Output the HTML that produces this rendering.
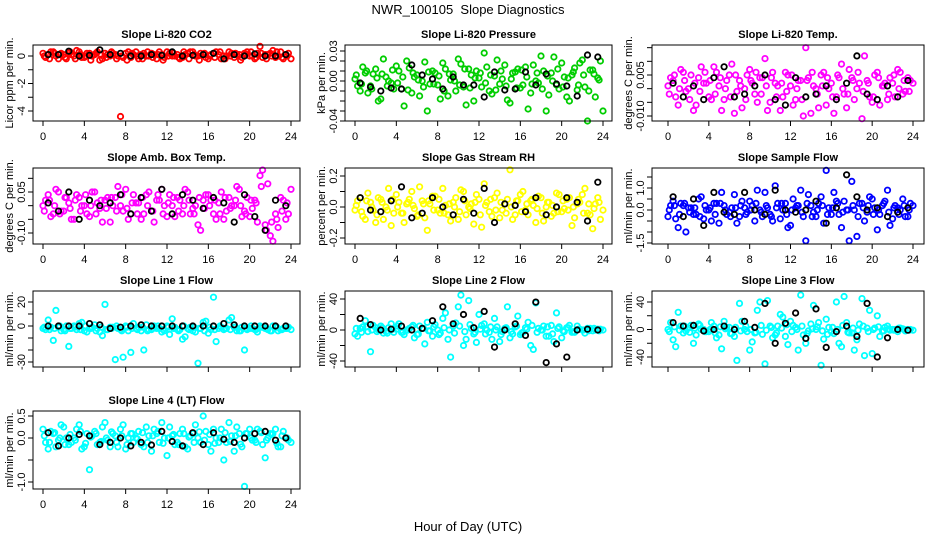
<!DOCTYPE html>
<html><head><meta charset="utf-8"><title>NWR_100105 Slope Diagnostics</title>
<style>
html,body{margin:0;padding:0;background:#fff;}
svg{display:block;font-family:"Liberation Sans",Arial,sans-serif;}
</style></head>
<body>
<svg id="chart" width="936" height="540" viewBox="0 0 936 540" xmlns="http://www.w3.org/2000/svg">
<rect x="0" y="0" width="936" height="540" fill="#fff"/>
<text x="468" y="14" text-anchor="middle" font-size="13" style="white-space:pre">NWR_100105&#160; Slope Diagnostics</text>
<text x="468" y="531" text-anchor="middle" font-size="13">Hour of Day (UTC)</text>
</svg>
<script>
// shared hour categories
const hoursA = [0,0.5,1,1.5,2,2.5,3,3.5,4,4.5,5,5.5,6,6.5,7,7.5,8,8.5,9,9.5,10,10.5,11,11.5,12,12.5,13,13.5,14,14.5,15,15.5,16,16.5,17,17.5,18,18.5,19,19.5,20,20.5,21,21.5,22,22.5,23,23.5,24];
const hoursB = [0.25,0.75,1.25,1.75,2.25,2.75,3.25,3.75,4.25,4.75,5.25,5.75,6.25,6.75,7.25,7.75,8.25,8.75,9.25,9.75,10.25,10.75,11.25,11.75,12.25,12.75,13.25,13.75,14.25,14.75,15.25,15.75,16.25,16.75,17.25,17.75,18.25,18.75,19.25,19.75,20.25,20.75,21.25,21.75,22.25,22.75,23.25,23.75];
const hoursC = [0.125,0.625,1.125,1.625,2.125,2.625,3.125,3.625,4.125,4.625,5.125,5.625,6.125,6.625,7.125,7.625,8.125,8.625,9.125,9.625,10.125,10.625,11.125,11.625,12.125,12.625,13.125,13.625,14.125,14.625,15.125,15.625,16.125,16.625,17.125,17.625,18.125,18.625,19.125,19.625,20.125,20.625,21.125,21.625,22.125,22.625,23.125,23.625];
const hoursK = [0.5,1.5,2.5,3.5,4.5,5.5,6.5,7.5,8.5,9.5,10.5,11.5,12.5,13.5,14.5,15.5,16.5,17.5,18.5,19.5,20.5,21.5,22.5,23.5];
const xTickLabels = ["0","4","8","12","16","20","24"];
const xTickValues = [0,4,8,12,16,20,24];

const co2A = [0.2,0.1,0.3,-0.2,0.1,0.2,0.0,0.3,-0.1,0.2,0.1,-0.3,0.2,0.0,0.1,-4.4,0.2,-0.1,0.3,0.1,0.0,0.2,-0.2,0.1,0.3,0.0,0.1,-0.1,0.2,0.3,0.0,0.1,-0.2,0.2,0.1,0.0,0.3,-0.1,0.1,0.2,0.0,-0.2,0.7,0.1,0.2,-0.1,0.3,0.1,-0.2];
const co2B = [-0.1,0.3,0.0,0.2,-0.2,0.1,0.4,-0.1,0.2,0.0,0.3,-0.2,0.1,0.2,0.0,-0.1,0.3,0.1,-0.2,0.2,0.0,0.1,0.3,-0.1,0.2,0.0,-0.2,0.1,0.3,0.0,0.2,-0.1,0.1,0.3,-0.2,0.0,0.2,0.1,-0.1,0.3,0.0,0.2,-0.1,0.1,0.4,0.0,-0.2,0.2];
const co2C = [0.0,-0.2,0.2,0.1,-0.1,0.3,-0.2,0.1,0.0,-0.3,0.2,0.1,-0.1,0.3,-0.2,0.0,-0.3,0.2,0.0,-0.2,0.3,-0.1,0.1,-0.3,0.0,0.2,-0.1,0.3,-0.2,0.1,-0.3,0.2,0.0,-0.1,0.3,-0.2,0.0,0.2,-0.3,0.1,0.3,-0.1,0.2,-0.2,0.0,0.3,-0.1,0.0];
const co2K = [0.1,0.1,0.35,0.0,0.05,0.45,0.1,0.2,0.0,0.0,0.1,0.05,0.3,0.0,0.05,0.1,0.2,-0.2,0.1,0.0,0.15,0.0,0.0,0.1];

const presA = [0.002,-0.01,0.008,-0.005,0.012,-0.018,0.004,-0.002,0.015,-0.008,0.02,-0.012,0.006,0.0,-0.03,0.01,-0.004,0.018,-0.015,0.007,0.022,-0.006,0.012,-0.02,0.003,0.028,-0.01,0.005,-0.003,0.016,-0.022,0.009,-0.007,0.014,-0.012,0.0,0.025,-0.03,0.008,-0.004,0.018,-0.016,0.006,-0.009,0.021,-0.04,0.011,0.003,-0.03];
const presB = [-0.005,0.014,-0.012,0.007,-0.02,0.022,0.0,-0.008,0.01,-0.025,0.013,0.004,-0.015,0.019,-0.003,0.008,-0.018,0.012,0.001,-0.01,0.017,-0.024,0.006,0.01,-0.006,0.014,-0.013,0.021,0.002,-0.019,0.008,0.012,-0.004,-0.028,0.016,-0.002,0.01,-0.014,0.024,-0.008,0.004,-0.02,0.013,0.018,-0.006,0.011,-0.016,0.02];
const presC = [0.006,-0.003,0.01,-0.008,0.003,0.007,-0.005,0.011,-0.002,0.004,-0.009,0.008,0.001,-0.006,0.009,-0.003,0.005,-0.01,0.007,0.0,-0.004,0.012,-0.007,0.003,0.008,-0.002,0.006,-0.009,0.01,-0.005,0.002,-0.007,0.011,0.004,-0.003,0.008,-0.008,0.005,0.0,0.012,-0.006,0.003,0.009,-0.004,0.006,-0.01,0.007,0.001];
const presK = [-0.002,-0.006,-0.01,-0.007,-0.008,0.016,0.006,0.002,-0.008,0.004,-0.004,-0.004,-0.016,0.009,-0.009,-0.008,0.009,-0.004,0.007,-0.003,-0.005,-0.015,0.026,0.024];

const tempA = [0.001,0.003,-0.006,0.006,0.0,-0.008,0.004,0.002,-0.003,0.008,0.001,-0.004,0.005,-0.009,0.003,0.0,0.007,-0.002,0.004,0.011,-0.005,0.002,-0.008,0.006,0.001,-0.004,0.003,0.015,-0.009,0.0,0.005,-0.006,0.002,-0.003,0.009,-0.007,0.004,0.0,-0.011,0.003,-0.005,0.006,0.001,-0.004,0.002,0.007,-0.002,0.004,0.002];
const tempB = [0.004,-0.003,0.007,-0.001,0.005,-0.006,0.008,0.002,-0.004,0.006,-0.008,0.003,0.009,-0.001,-0.007,0.005,0.002,-0.005,0.004,-0.008,0.006,0.001,-0.003,0.005,-0.006,0.003,-0.01,0.004,0.001,-0.007,0.006,0.0,-0.009,0.004,-0.002,0.007,-0.004,0.002,0.012,-0.003,0.005,-0.006,0.002,0.004,-0.003,0.006,-0.001,0.003];
const tempC = [-0.002,0.005,0.0,0.003,-0.004,0.002,-0.001,0.006,0.003,-0.002,0.004,0.0,-0.003,0.005,0.001,-0.004,0.003,0.006,-0.002,0.001,0.004,-0.003,0.002,-0.001,0.005,0.0,-0.004,0.003,0.006,-0.002,0.001,0.004,-0.003,0.005,0.0,-0.002,0.003,0.006,-0.001,0.002,-0.003,0.004,0.001,-0.002,0.005,0.0,0.003,-0.001];
const tempK = [0.002,-0.003,0.001,-0.004,0.004,0.008,-0.003,-0.002,0.001,0.005,-0.004,-0.006,0.004,-0.003,-0.002,0.001,-0.004,0.002,0.012,-0.002,-0.004,0.001,-0.003,0.003];

const ambA = [0.0,0.04,-0.03,0.05,-0.02,0.01,-0.05,0.03,0.0,-0.04,0.05,-0.01,0.02,-0.06,0.03,0.0,0.06,-0.03,0.01,-0.05,0.04,-0.02,0.02,0.06,-0.04,0.0,0.03,-0.03,0.05,-0.01,-0.07,0.02,0.04,-0.03,0.01,-0.05,0.03,0.0,0.06,-0.02,-0.04,0.02,0.11,-0.07,-0.11,-0.03,0.03,-0.05,0.06];
const ambB = [0.02,-0.04,0.06,-0.02,0.03,-0.05,0.04,0.0,-0.03,0.05,0.01,-0.06,0.03,0.0,0.07,-0.02,-0.05,0.04,0.01,-0.03,0.05,-0.06,0.02,0.0,0.04,-0.04,0.02,0.06,-0.03,0.0,-0.09,0.04,0.02,-0.05,0.05,-0.02,0.0,0.07,-0.04,0.03,-0.01,-0.06,0.13,0.08,-0.13,-0.08,0.02,-0.03];
const ambC = [-0.02,0.02,0.0,-0.03,0.03,-0.01,0.02,-0.02,0.04,0.0,-0.03,0.02,-0.01,0.03,-0.02,0.04,-0.01,0.01,-0.03,0.03,0.0,-0.02,0.04,-0.03,0.01,0.03,-0.02,0.0,0.02,-0.03,0.03,-0.01,0.0,0.02,-0.03,0.03,-0.01,0.02,0.0,-0.03,0.02,0.01,0.07,-0.09,-0.06,-0.05,-0.02,0.01];
const ambK = [0.01,-0.02,0.05,-0.05,0.02,0.0,0.01,0.04,-0.03,0.03,-0.02,0.06,-0.03,0.04,0.02,-0.01,0.03,0.01,-0.06,0.04,-0.04,-0.09,0.02,0.0];

const rhA = [-0.02,0.06,-0.08,0.03,-0.1,0.05,0.0,-0.12,0.08,-0.04,0.02,0.1,-0.06,0.04,-0.15,0.07,-0.02,0.12,-0.05,0.03,-0.08,0.1,0.0,-0.11,0.05,0.15,-0.03,0.06,-0.07,0.02,0.24,-0.05,0.08,-0.02,0.04,-0.1,0.06,0.0,-0.06,0.09,-0.03,0.05,-0.12,0.02,0.08,-0.04,-0.14,0.06,-0.02];
const rhB = [0.04,-0.06,0.09,-0.02,0.06,-0.08,0.12,-0.04,0.03,-0.1,0.05,-0.01,0.13,-0.07,0.02,0.07,-0.04,0.01,-0.09,0.06,0.11,-0.05,0.02,0.08,-0.13,0.03,-0.06,0.09,-0.02,0.05,-0.08,0.04,0.1,-0.05,0.01,0.07,-0.09,0.03,-0.04,0.08,-0.01,0.06,-0.07,0.03,0.12,-0.05,0.02,-0.08];
const rhC = [0.01,-0.03,0.04,0.0,-0.05,0.03,-0.02,0.05,0.0,-0.04,0.03,0.01,-0.05,0.02,0.04,-0.02,0.05,-0.04,0.02,0.0,-0.03,0.04,-0.01,0.03,-0.05,0.01,0.05,-0.02,0.03,-0.04,0.0,0.04,-0.03,0.02,0.05,-0.01,-0.04,0.03,0.01,-0.03,0.04,-0.02,0.0,0.05,-0.04,0.02,-0.01,0.03];
const rhK = [0.06,-0.02,-0.03,0.04,0.13,-0.07,-0.04,0.06,0.0,-0.05,0.05,-0.04,0.12,-0.1,0.02,0.01,-0.03,0.06,-0.05,0.0,0.06,0.03,-0.09,0.16];

const sfA = [-0.3,0.4,-0.8,0.2,0.1,-0.2,0.5,-0.4,0.0,0.3,-0.6,0.2,-0.1,0.7,-0.3,0.1,0.4,-0.5,0.0,0.8,-0.2,1.1,-0.4,0.3,-0.7,0.1,0.9,-1.4,0.2,-0.3,0.6,1.8,-0.2,0.4,-0.8,0.0,1.3,-1.2,0.3,-0.1,0.5,-0.9,0.2,0.9,-0.4,0.1,0.5,-0.3,0.2];
const sfB = [0.2,-0.4,0.3,-1.0,0.1,-0.2,0.6,0.0,-0.5,0.3,0.8,-0.2,0.1,-0.6,0.4,-0.1,0.2,0.9,-0.3,0.1,-0.5,0.3,0.0,-0.8,0.5,0.2,-0.3,0.7,-0.1,0.3,-0.6,0.1,0.8,-0.2,0.4,-1.4,0.0,0.3,-0.5,0.6,0.1,-0.2,0.4,-0.7,0.2,0.0,-0.3,0.3];
const sfC = [0.0,0.2,-0.2,0.3,-0.1,0.1,-0.3,0.2,0.1,-0.2,0.3,0.0,-0.3,0.1,0.2,-0.2,0.0,0.3,-0.1,0.2,-0.3,0.1,0.3,-0.2,0.0,0.2,-0.1,0.3,-0.3,0.0,0.2,-0.2,0.1,0.3,-0.1,0.0,0.2,-0.3,0.1,0.2,-0.2,0.0,0.3,-0.1,0.1,-0.2,0.2,0.0];
const sfK = [0.6,-0.3,0.5,-0.7,0.8,-0.1,-0.2,0.8,0.0,-0.2,0.9,0.0,-0.1,0.0,0.4,-0.6,0.1,1.6,0.6,0.0,0.1,-0.3,-0.1,0.1];

const l1A = [-2,5,-12,-1,-3,-17,0,2,-4,-2,1,-5,18,-1,-28,-3,0,-22,-2,-4,1,-3,-2,-5,0,6,-3,-11,-2,-4,-31,3,-6,24,-2,-3,5,-1,-4,-20,-2,-3,0,-2,-4,-1,-3,-2,-3];
const l1B = [-3,-1,13,-4,0,-2,-3,3,-5,-1,-2,-8,-3,-1,-2,-26,-4,2,-1,-20,-3,0,-2,-4,-7,-1,-3,-9,-1,-5,-2,4,-3,-13,-1,-2,7,-4,-1,-3,-2,-5,-1,-3,0,-4,-2,-1];
const l1C = [-1,-3,-2,0,-4,-2,-1,-3,0,-2,-4,-1,-3,-2,0,-4,-1,-2,-3,-1,-4,-2,0,-3,-1,-2,-4,0,-3,-1,-2,-4,-1,-3,0,-2,-3,-1,-4,-2,0,-3,-1,-2,-4,-1,-3,-2];
const l1K = [0,0,0,0,2,1,-2,-1,0,1,0,0,0,0,0,0,0,2,1,0,0,0,0,0];

const l2A = [-5,2,12,-28,3,5,-2,8,1,-3,0,4,-6,2,10,-8,0,15,-12,5,30,-20,38,-5,20,8,-3,15,-15,2,-10,4,-6,3,-20,35,0,-8,6,22,-10,3,-3,5,0,2,-1,1,0];
const l2B = [-8,4,-2,6,0,-4,3,-3,8,-6,2,-10,5,-18,-1,7,-4,22,-35,9,45,-12,2,-16,6,0,-12,4,-2,30,-5,18,-3,10,-25,2,5,-8,-15,4,-2,6,-3,1,-4,2,0,1];
const l2C = [2,-3,4,0,-2,3,-4,1,5,-3,0,6,-5,2,-1,4,-6,3,0,-4,5,-2,7,-3,1,-5,4,0,-6,3,-2,5,-4,1,6,-3,0,4,-5,2,-1,3,-2,1,0,-1,2,-1];
const l2K = [15,7,0,1,5,0,2,12,30,8,20,3,24,-22,0,8,-7,36,-42,-18,-35,0,1,0];

const l3A = [0,-15,25,-5,2,-20,8,0,-3,5,-8,12,3,-10,38,0,-30,-5,40,-50,5,-8,22,-10,12,3,50,-20,8,0,-52,15,-3,40,-25,10,-5,-15,45,2,-35,20,-2,5,0,-3,1,0,-1];
const l3B = [10,-25,5,-2,6,-8,0,-3,10,-12,-28,3,-6,-45,12,-3,-18,28,-7,42,-12,5,18,-22,6,-30,-8,-2,35,10,-14,3,-6,-20,48,-5,-30,8,-38,28,2,-10,3,-1,0,2,-2,0];
const l3C = [-3,4,-1,5,-4,2,6,-3,0,-5,4,1,-6,3,-2,5,0,-4,6,-1,3,-5,2,7,-3,0,5,-6,1,4,-2,-7,3,0,6,-4,2,-1,5,-3,0,4,-2,1,-1,2,0,-1];
const l3K = [10,5,6,-2,0,5,0,12,3,38,-20,9,24,-13,30,-26,-3,5,-10,38,-40,-12,0,-1];

const l4A = [0.2,-0.25,0.1,-0.05,0.25,-0.15,0.0,0.3,-0.2,-0.72,0.15,-0.1,0.35,-0.2,0.05,0.2,-0.25,0.1,0.0,-0.15,0.25,-0.3,0.1,0.35,-0.4,0.05,-0.1,0.2,-0.25,0.1,0.0,0.5,-0.15,0.2,-0.1,-0.5,0.35,-0.3,0.1,-1.1,0.2,-0.05,0.15,-0.45,0.1,0.2,-0.2,0.0,-0.1];
const l4B = [-0.1,0.15,-0.2,0.3,0.0,-0.1,0.2,-0.25,0.1,0.05,-0.15,0.25,-0.05,0.1,-0.2,0.3,0.0,-0.1,0.15,-0.2,0.05,0.2,-0.1,0.0,0.25,-0.15,0.1,-0.2,0.05,0.3,-0.1,0.15,-0.3,0.0,0.2,-0.1,0.05,0.25,-0.2,0.1,-0.05,0.2,-0.15,0.0,0.1,-0.2,0.15,-0.05];
const l4C = [0.05,-0.1,0.12,0.0,-0.15,0.08,-0.05,0.15,-0.12,0.02,0.1,-0.08,0.0,0.14,-0.1,0.05,-0.15,0.1,-0.02,0.12,-0.1,0.05,0.15,-0.12,0.0,0.08,-0.15,0.1,0.02,-0.1,0.14,-0.05,0.08,-0.12,0.0,0.12,-0.08,0.05,-0.14,0.1,0.0,-0.1,0.12,-0.05,0.08,-0.12,0.05,0.0];
const l4K = [0.12,-0.18,0.0,0.08,0.05,-0.15,-0.1,0.0,-0.18,-0.1,-0.16,0.15,-0.08,-0.18,0.12,-0.15,0.12,-0.03,-0.1,0.0,0.1,0.15,-0.05,0.0];

// y-axis tick values / labels
const co2Ticks = [0,-1,-2,-3,-4]; const co2Labels = ["0","-2","-4"];
const presTicks = [0.03,0.02,0.01,0,-0.01,-0.02,-0.03,-0.04]; const presLabels = ["0.03","0.00","-0.04"];
const tempTicks = [0.015,0.01,0.005,0,-0.005,-0.01]; const tempLabels = ["0.005","-0.010"];
const ambTicks = [0.1,0.05,0,-0.05,-0.1]; const ambLabels = ["0.05","-0.10"];
const rhTicks = [0.2,0.1,0,-0.1,-0.2]; const rhLabels = ["0.2","0.0","-0.2"];
const sfTicks = [1.5,1,0.5,0,-0.5,-1,-1.5]; const sfLabels = ["1.0","0.0","-1.5"];
const l1Ticks = [20,10,0,-10,-20,-30]; const l1Labels = ["20","0","-30"];
const l2Ticks = [40,20,0,-20,-40]; const l2Labels = ["40","0","-40"];
const l3Ticks = [40,20,0,-20,-40]; const l3Labels = ["40","0","-40"];
const l4Ticks = [0.5,0,-0.5,-1]; const l4Labels = ["0.5","0.0","-1.0"];

const NS = "http://www.w3.org/2000/svg";
const svg = document.getElementById("chart");
const cols = [{l:33,r:300,x0:43,x24:291},{l:345,r:612,x0:355,x24:603},{l:652,r:924,x0:668,x24:913}];
const rows = [{t:45,b:121,lab:true},{t:168,b:244,lab:true},{t:291,b:367,lab:false},{t:411,b:489,lab:true}];

function mk(tag, attrs, parent){const e=document.createElementNS(NS,tag);for(const k in attrs)e.setAttribute(k,attrs[k]);(parent||svg).appendChild(e);return e;}

function panel(key,title,ylab,ci,ri,color,v1,p1,v2,p2,A,B,C,K,ticks,labels){
  const c=cols[ci], r=rows[ri];
  const g=mk("g",{});
  
  
  const xs=h=>c.x0+(c.x24-c.x0)*h/24;
  const ys=v=>p1+(v-v1)*(p2-p1)/(v2-v1);
  const tt=mk("text",{x:(c.l+c.r)/2,y:r.t-7,"text-anchor":"middle","font-size":"11","font-weight":"bold"},g);
  tt.textContent=title;
  
  
  const yl=mk("text",{x:0,y:0,"text-anchor":"middle","font-size":"11",transform:`translate(${c.l-20},${(r.t+r.b)/2}) rotate(-90)`},g);
  yl.textContent=ylab;
  
  
  function pts(hrs,vals,col,nm){
    vals.forEach((v,i)=>{
      const cc=mk("circle",{cx:xs(hrs[i]).toFixed(1),cy:ys(v).toFixed(1),r:2.7,fill:"none",stroke:col,"stroke-width":1.8},g);
      
      
    });
  }
  pts(hoursA,A,color,key+'-point');
  pts(hoursB,B,color,key+'-point');
  pts(hoursC,C,color,key+'-point');
  pts(hoursK,K,"#000",key+'-reference-point');
  const box=mk("rect",{x:c.l,y:r.t,width:c.r-c.l,height:r.b-r.t,fill:"none",stroke:"#000","stroke-width":1},g);
  
  
  xTickValues.forEach((h,i)=>{
    const x=xs(h);
    const tk=mk("line",{x1:x,y1:r.b,x2:x,y2:r.b+5,stroke:"#000"},g);
    
    
    if(r.lab){
      const t=mk("text",{x:x,y:r.b+19,"text-anchor":"middle","font-size":"11"},g);
      t.textContent=xTickLabels[i];
      
      
    }
  });
  ticks.forEach(v=>{
    const y=ys(v);
    if(y<r.t-1||y>r.b+1)return;
    const tk=mk("line",{x1:c.l-5,y1:y,x2:c.l,y2:y,stroke:"#000"},g);
    
    
  });
  labels.forEach(s=>{
    const y=ys(parseFloat(s));
    const t=mk("text",{x:0,y:0,"text-anchor":"middle","font-size":"11",transform:`translate(${c.l-8},${y}) rotate(-90)`},g);
    t.textContent=s;
    
    
  });
}

panel("co2","Slope Li-820 CO2","Licor ppm per min.",0,0,"#ff0000",0,56,-4,111,co2A,co2B,co2C,co2K,co2Ticks,co2Labels);
panel("pressure","Slope Li-820 Pressure","kPa per min.",1,0,"#00cd00",0.03,51,-0.04,121,presA,presB,presC,presK,presTicks,presLabels);
panel("li820-temp","Slope Li-820 Temp.","degrees C per min.",2,0,"#ff00ff",0.005,75,-0.01,116,tempA,tempB,tempC,tempK,tempTicks,tempLabels);
panel("amb-box-temp","Slope Amb. Box Temp.","degrees C per min.",0,1,"#ff00ff",0.05,192,-0.1,233,ambA,ambB,ambC,ambK,ambTicks,ambLabels);
panel("gas-stream-rh","Slope Gas Stream RH","percent per min.",1,1,"#ffff00",0.2,176,-0.2,238,rhA,rhB,rhC,rhK,rhTicks,rhLabels);
panel("sample-flow","Slope Sample Flow","ml/min per min.",2,1,"#0000ff",1,188,-1.5,243,sfA,sfB,sfC,sfK,sfTicks,sfLabels);
panel("line1-flow","Slope Line 1 Flow","ml/min per min.",0,2,"#00ffff",20,302,-30,362,l1A,l1B,l1C,l1K,l1Ticks,l1Labels);
panel("line2-flow","Slope Line 2 Flow","ml/min per min.",1,2,"#00ffff",40,299,-40,361,l2A,l2B,l2C,l2K,l2Ticks,l2Labels);
panel("line3-flow","Slope Line 3 Flow","ml/min per min.",2,2,"#00ffff",40,302,-40,357,l3A,l3B,l3C,l3K,l3Ticks,l3Labels);
panel("line4-flow","Slope Line 4 (LT) Flow","ml/min per min.",0,3,"#00ffff",0.5,416,-1,482,l4A,l4B,l4C,l4K,l4Ticks,l4Labels);
</script>
</body></html>
